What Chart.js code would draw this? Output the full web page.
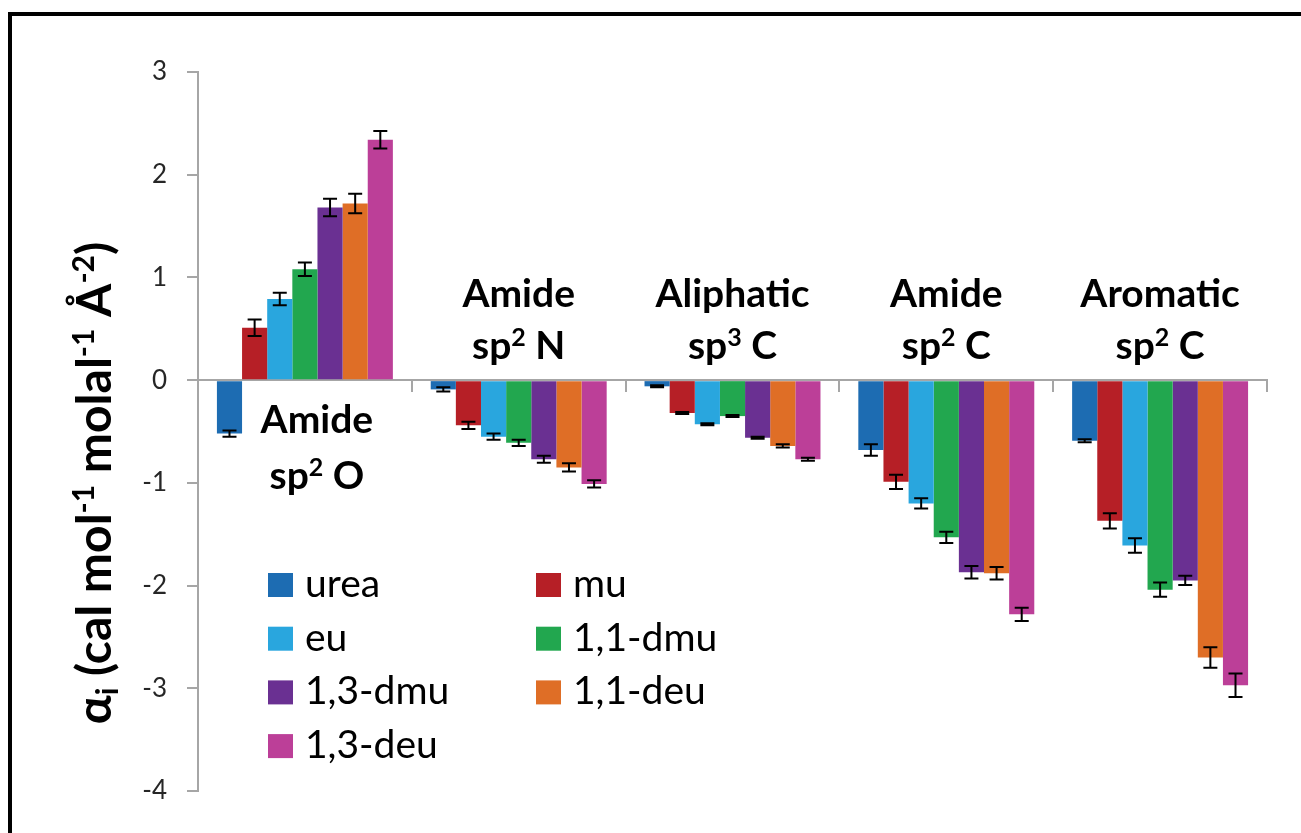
<!DOCTYPE html>
<html>
<head>
<meta charset="utf-8">
<script src="https://cdn.jsdelivr.net/npm/chart.js@4.4.1/dist/chart.umd.min.js"></script>
<style>
  html, body { margin: 0; padding: 0; background: #fff; }
  #frame { position: absolute; left: 8px; top: 12px; width: 1293px; height: 821px;
           border-top: 4px solid #000; border-left: 4px solid #000; box-sizing: border-box; }
  #chart { position: absolute; left: 0; top: 0; }
</style>
</head>
<body>
<div id="frame"></div>
<canvas id="chart" width="1301" height="833"></canvas>
<script>
// atom-type groups, two text lines each
const groupLines = [
  ['Amide', 'sp² O'],
  ['Amide', 'sp² N'],
  ['Aliphatic', 'sp³ C'],
  ['Amide', 'sp² C'],
  ['Aromatic', 'sp² C']
];

const seriesNames = ['urea', 'mu', 'eu', '1,1-dmu', '1,3-dmu', '1,1-deu', '1,3-deu'];
const seriesColors = ['#1d6cb2', '#b61f26', '#29a6de', '#22a74f', '#6a3092', '#df6e26', '#bc3f98'];

// alpha_i values per solute, one entry per group
const urea   = [-0.52, -0.09, -0.06, -0.68, -0.59];
const mu     = [ 0.51, -0.44, -0.32, -0.99, -1.37];
const eu     = [ 0.79, -0.55, -0.43, -1.20, -1.61];
const dmu11  = [ 1.08, -0.61, -0.35, -1.53, -2.04];
const dmu13  = [ 1.68, -0.77, -0.56, -1.87, -1.95];
const deu11  = [ 1.72, -0.85, -0.64, -1.88, -2.70];
const deu13  = [ 2.34, -1.01, -0.77, -2.28, -2.97];
const seriesValues = [urea, mu, eu, dmu11, dmu13, deu11, deu13];

// standard errors, same layout
const ureaErr  = [0.03,  0.02,  0.01,  0.055, 0.015];
const muErr    = [0.08,  0.035, 0.01,  0.07,  0.075];
const euErr    = [0.06,  0.03,  0.01,  0.05,  0.07];
const dmu11Err = [0.065, 0.03,  0.01,  0.055, 0.07];
const dmu13Err = [0.085, 0.035, 0.01,  0.06,  0.045];
const deu11Err = [0.095, 0.04,  0.015, 0.06,  0.10];
const deu13Err = [0.085, 0.035, 0.015, 0.065, 0.115];
const seriesErrors = [ureaErr, muErr, euErr, dmu11Err, dmu13Err, deu11Err, deu13Err];

const yTicks = { min: -4, max: 3, step: 1 };

// y title pieces: [text, 'sup' | 'sub' | '']
const titleParts = [
  ['α', ''], ['i', 'sub'], [' (cal mol', ''], ['-1', 'sup'],
  [' molal', ''], ['-1', 'sup'], [' Å', ''], ['-2', 'sup'], [')', '']
];

const axisGray = '#a6a6a6';

// draws a run of text where ² and ³ become small raised digits
function drawSupText(ctx, text, cx, baseY, size) {
  const sup = { '²': '2', '³': '3' };
  const parts = [];
  let buf = '';
  for (const ch of text) {
    if (sup[ch]) { if (buf) parts.push([buf, false]); parts.push([sup[ch], true]); buf = ''; }
    else buf += ch;
  }
  if (buf) parts.push([buf, false]);
  const fontFor = s => 'bold ' + (s ? Math.round(size * 0.64) : size) + 'px Lato';
  let total = 0;
  parts.forEach(p => { ctx.font = fontFor(p[1]); total += ctx.measureText(p[0]).width; });
  let x = cx - total / 2;
  ctx.textAlign = 'left';
  parts.forEach(p => {
    ctx.font = fontFor(p[1]);
    ctx.fillText(p[0], x, baseY - (p[1] ? size * 0.33 : 0));
    x += ctx.measureText(p[0]).width;
  });
}

const errorBars = {
  id: 'errorBars',
  afterDatasetsDraw(chart) {
    const ctx = chart.ctx, y = chart.scales.y;
    ctx.save();
    ctx.strokeStyle = '#000';
    ctx.lineWidth = 2;
    chart.data.datasets.forEach((ds, i) => {
      chart.getDatasetMeta(i).data.forEach((bar, j) => {
        const v = ds.data[j], e = seriesErrors[i][j];
        const y1 = y.getPixelForValue(v - e), y2 = y.getPixelForValue(v + e);
        ctx.beginPath();
        ctx.moveTo(bar.x, y1); ctx.lineTo(bar.x, y2);
        ctx.moveTo(bar.x - 7, y1); ctx.lineTo(bar.x + 7, y1);
        ctx.moveTo(bar.x - 7, y2); ctx.lineTo(bar.x + 7, y2);
        ctx.stroke();
      });
    });
    ctx.restore();
  }
};

// group names sit on the empty side of the zero line
const groupLabels = {
  id: 'groupLabels',
  afterDatasetsDraw(chart) {
    const ctx = chart.ctx, x = chart.scales.x, y = chart.scales.y;
    const zero = y.getPixelForValue(0);
    ctx.save();
    ctx.fillStyle = '#000';
    groupLines.forEach((lines, j) => {
      const up = Math.max(...seriesValues.map(s => s[j])) > 0;
      const cx = x.getPixelForValue(j) + (up ? 12 : 0);
      const base = up ? [zero + 53, zero + 109] : [zero - 73, zero - 21];
      lines.forEach((t, k) => drawSupText(ctx, t, cx, base[k], 39));
    });
    ctx.restore();
  }
};

const legendBox = {
  id: 'legendBox',
  afterDraw(chart) {
    const { ctx, chartArea } = chart;
    ctx.save();
    ctx.font = '39px Lato';
    chart.data.datasets.forEach((ds, i) => {
      const col = i % 2, row = Math.floor(i / 2);
      const sx = chartArea.left + 70 + col * 268;
      const cy = chartArea.top + 513 + row * 53.7;
      ctx.fillStyle = ds.backgroundColor;
      ctx.fillRect(sx, cy - 12, 25, 24);
      ctx.fillStyle = '#000';
      ctx.fillText(ds.label, sx + 37, cy + 12);
    });
    ctx.restore();
  }
};

const yTitle = {
  id: 'yTitle',
  afterDraw(chart) {
    const ctx = chart.ctx;
    const size = 48;
    const fontFor = k => 'bold ' + (k ? Math.round(size * 0.62) : size) + 'px Lato';
    ctx.save();
    ctx.translate(111, 483);
    ctx.rotate(-Math.PI / 2);
    ctx.fillStyle = '#000';
    let total = 0;
    titleParts.forEach(p => { ctx.font = fontFor(p[1]); total += ctx.measureText(p[0]).width; });
    let pos = -total / 2;
    titleParts.forEach(p => {
      ctx.font = fontFor(p[1]);
      const dy = p[1] === 'sup' ? -size * 0.36 : p[1] === 'sub' ? size * 0.15 : 0;
      ctx.fillText(p[0], pos, dy);
      pos += ctx.measureText(p[0]).width;
    });
    ctx.restore();
  }
};

new Chart(document.getElementById('chart'), {
  type: 'bar',
  data: {
    labels: groupLines.map(l => l.join(' ')),
    datasets: seriesNames.map((name, i) => ({
      label: name,
      data: seriesValues[i],
      backgroundColor: seriesColors[i],
      borderWidth: 0,
      categoryPercentage: 0.823,
      barPercentage: 1
    }))
  },
  options: {
    responsive: false,
    devicePixelRatio: 1,
    animation: false,
    layout: { padding: { left: 0, right: 34, top: 72, bottom: 42 } },
    plugins: { legend: { display: false }, tooltip: { enabled: false } },
    scales: {
      x: {
        position: { y: 0 },
        ticks: { display: false },
        grid: { offset: true, drawOnChartArea: false, drawTicks: true, tickLength: 11, color: axisGray, lineWidth: 2 },
        border: { color: axisGray, width: 2 }
      },
      y: {
        min: yTicks.min,
        max: yTicks.max,
        afterFit: s => { s.width = 198; },
        ticks: { stepSize: yTicks.step, padding: 20, color: '#262626', font: { family: 'Lato', size: 26 } },
        grid: { drawOnChartArea: false, tickLength: 11, color: axisGray, lineWidth: 2 },
        border: { color: axisGray, width: 2 }
      }
    }
  },
  plugins: [errorBars, groupLabels, legendBox, yTitle]
});
</script>
</body>
</html>
